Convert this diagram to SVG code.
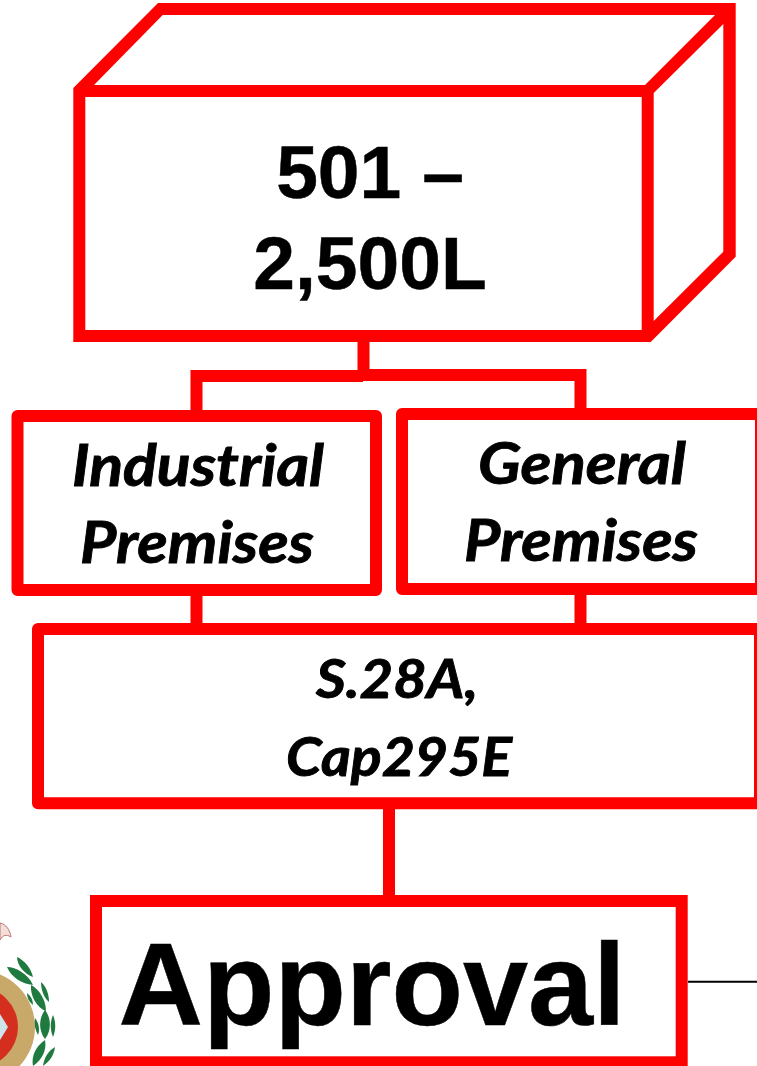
<svg xmlns="http://www.w3.org/2000/svg" width="757" height="1066" viewBox="0 0 757 1066">
<style>
.b{fill:#fff;stroke:#f00;stroke-width:12;stroke-linejoin:round}
.a{fill:#fff;stroke:#f00;stroke-width:12;stroke-linejoin:miter}
.c{fill:none;stroke:#f00;stroke-width:12}
text{font-family:"Lato","Open Sans",sans-serif;fill:#000;stroke:#000;stroke-width:.9;text-anchor:middle;font-style:italic;font-weight:700}
.i{font-size:58px}
.s{font-size:54px}
.h{font-family:"Liberation Sans",Arial,sans-serif;font-style:normal;font-weight:700;stroke-width:.5}
.l{fill:#1f7a3f}
</style>
<g id="connectors">
<path class="c" d="M363.500 338V376M196.500 410V376H363M363 375H580.500V410M196.500 592V628M580.500 592V628"/>
<path class="c" d="M389 806V900"/>
<path d="M688 981.700H757" fill="none" stroke="#000" stroke-width="2"/>
</g>
<g id="tank"><path fill="#f00" fill-rule="evenodd" d="M73.300 88L158 3H735.700V256.700L650.700 342H73.300ZM85.300 97V330H641.700V97ZM94 85H645L715 15H162.700ZM653.700 93V321L723.300 251.700V24Z"/>
<text class="h" x="370" y="198" font-size="75">501 –</text><text class="h" x="370" y="289" font-size="75">2,500L</text></g>
<g id="industrial"><rect class="b" x="17.500" y="416" width="358.500" height="174"/><text class="i" x="198" y="486" textLength="252" lengthAdjust="spacingAndGlyphs">Industrial</text><text class="i" x="197" y="563" textLength="234" lengthAdjust="spacingAndGlyphs">Premises</text></g>
<g id="general"><rect class="b" x="402" y="414" width="359" height="175"/><text class="i" x="582" y="484" textLength="208" lengthAdjust="spacingAndGlyphs">General</text><text class="i" x="581" y="561" textLength="234" lengthAdjust="spacingAndGlyphs">Premises</text></g>
<g id="section"><rect class="b" x="38" y="629" width="722" height="174.300"/><text class="s" x="397" y="698" textLength="162" lengthAdjust="spacingAndGlyphs">S.28A,</text><text class="s" x="399" y="776" textLength="226" lengthAdjust="spacingAndGlyphs">Cap295E</text></g>
<g id="approval"><rect class="a" x="96" y="901" width="585.700" height="161.300"/><text class="h" x="372" y="1025" font-size="117">Approval</text></g>
<g id="emblem">
<circle cx="-22" cy="1027" r="57" fill="#c8a96a"/><circle cx="-22" cy="1027" r="40" fill="#d42f1e"/>
<path d="M0 1014L8 1027L0 1040Z" fill="#cfe3ea"/>
<path d="M0 923C6 924 10 930 11 937C6 934 3 935 0 940Z" fill="#f3ded8" stroke="#b77" stroke-width="1"/>
<path class="l" d="M17 957C24 960 31 968 33 977C25 974 17 966 17 957Z"/>
<path class="l" d="M7 967C16 967 28 974 33 985C22 984 11 977 7 967Z"/>
<path class="l" d="M31 985C39 989 46 1000 46 1011C37 1008 30 996 31 985Z"/>
<path class="l" d="M41 982C46 986 49 994 49 1002C44 998 41 990 41 982Z"/>
<path class="l" d="M27 993C31 996 33 1000 33 1005C29 1002 27 998 27 993Z"/>
<path class="l" d="M45 1010C51 1018 52 1030 45 1039C38 1030 39 1018 45 1010Z"/>
<path class="l" d="M35 1018C39 1023 40 1030 38 1035C35 1030 34 1024 35 1018Z"/>
<path class="l" d="M53 1015C56 1022 56 1030 53 1037C50 1030 50 1022 53 1015Z"/>
<path class="l" d="M45 1040C47 1050 42 1060 33 1066C31 1056 36 1046 45 1040Z"/>
<path class="l" d="M55 1047C54 1055 50 1061 43 1066C44 1058 48 1051 55 1047Z"/>
</g>
</svg>
